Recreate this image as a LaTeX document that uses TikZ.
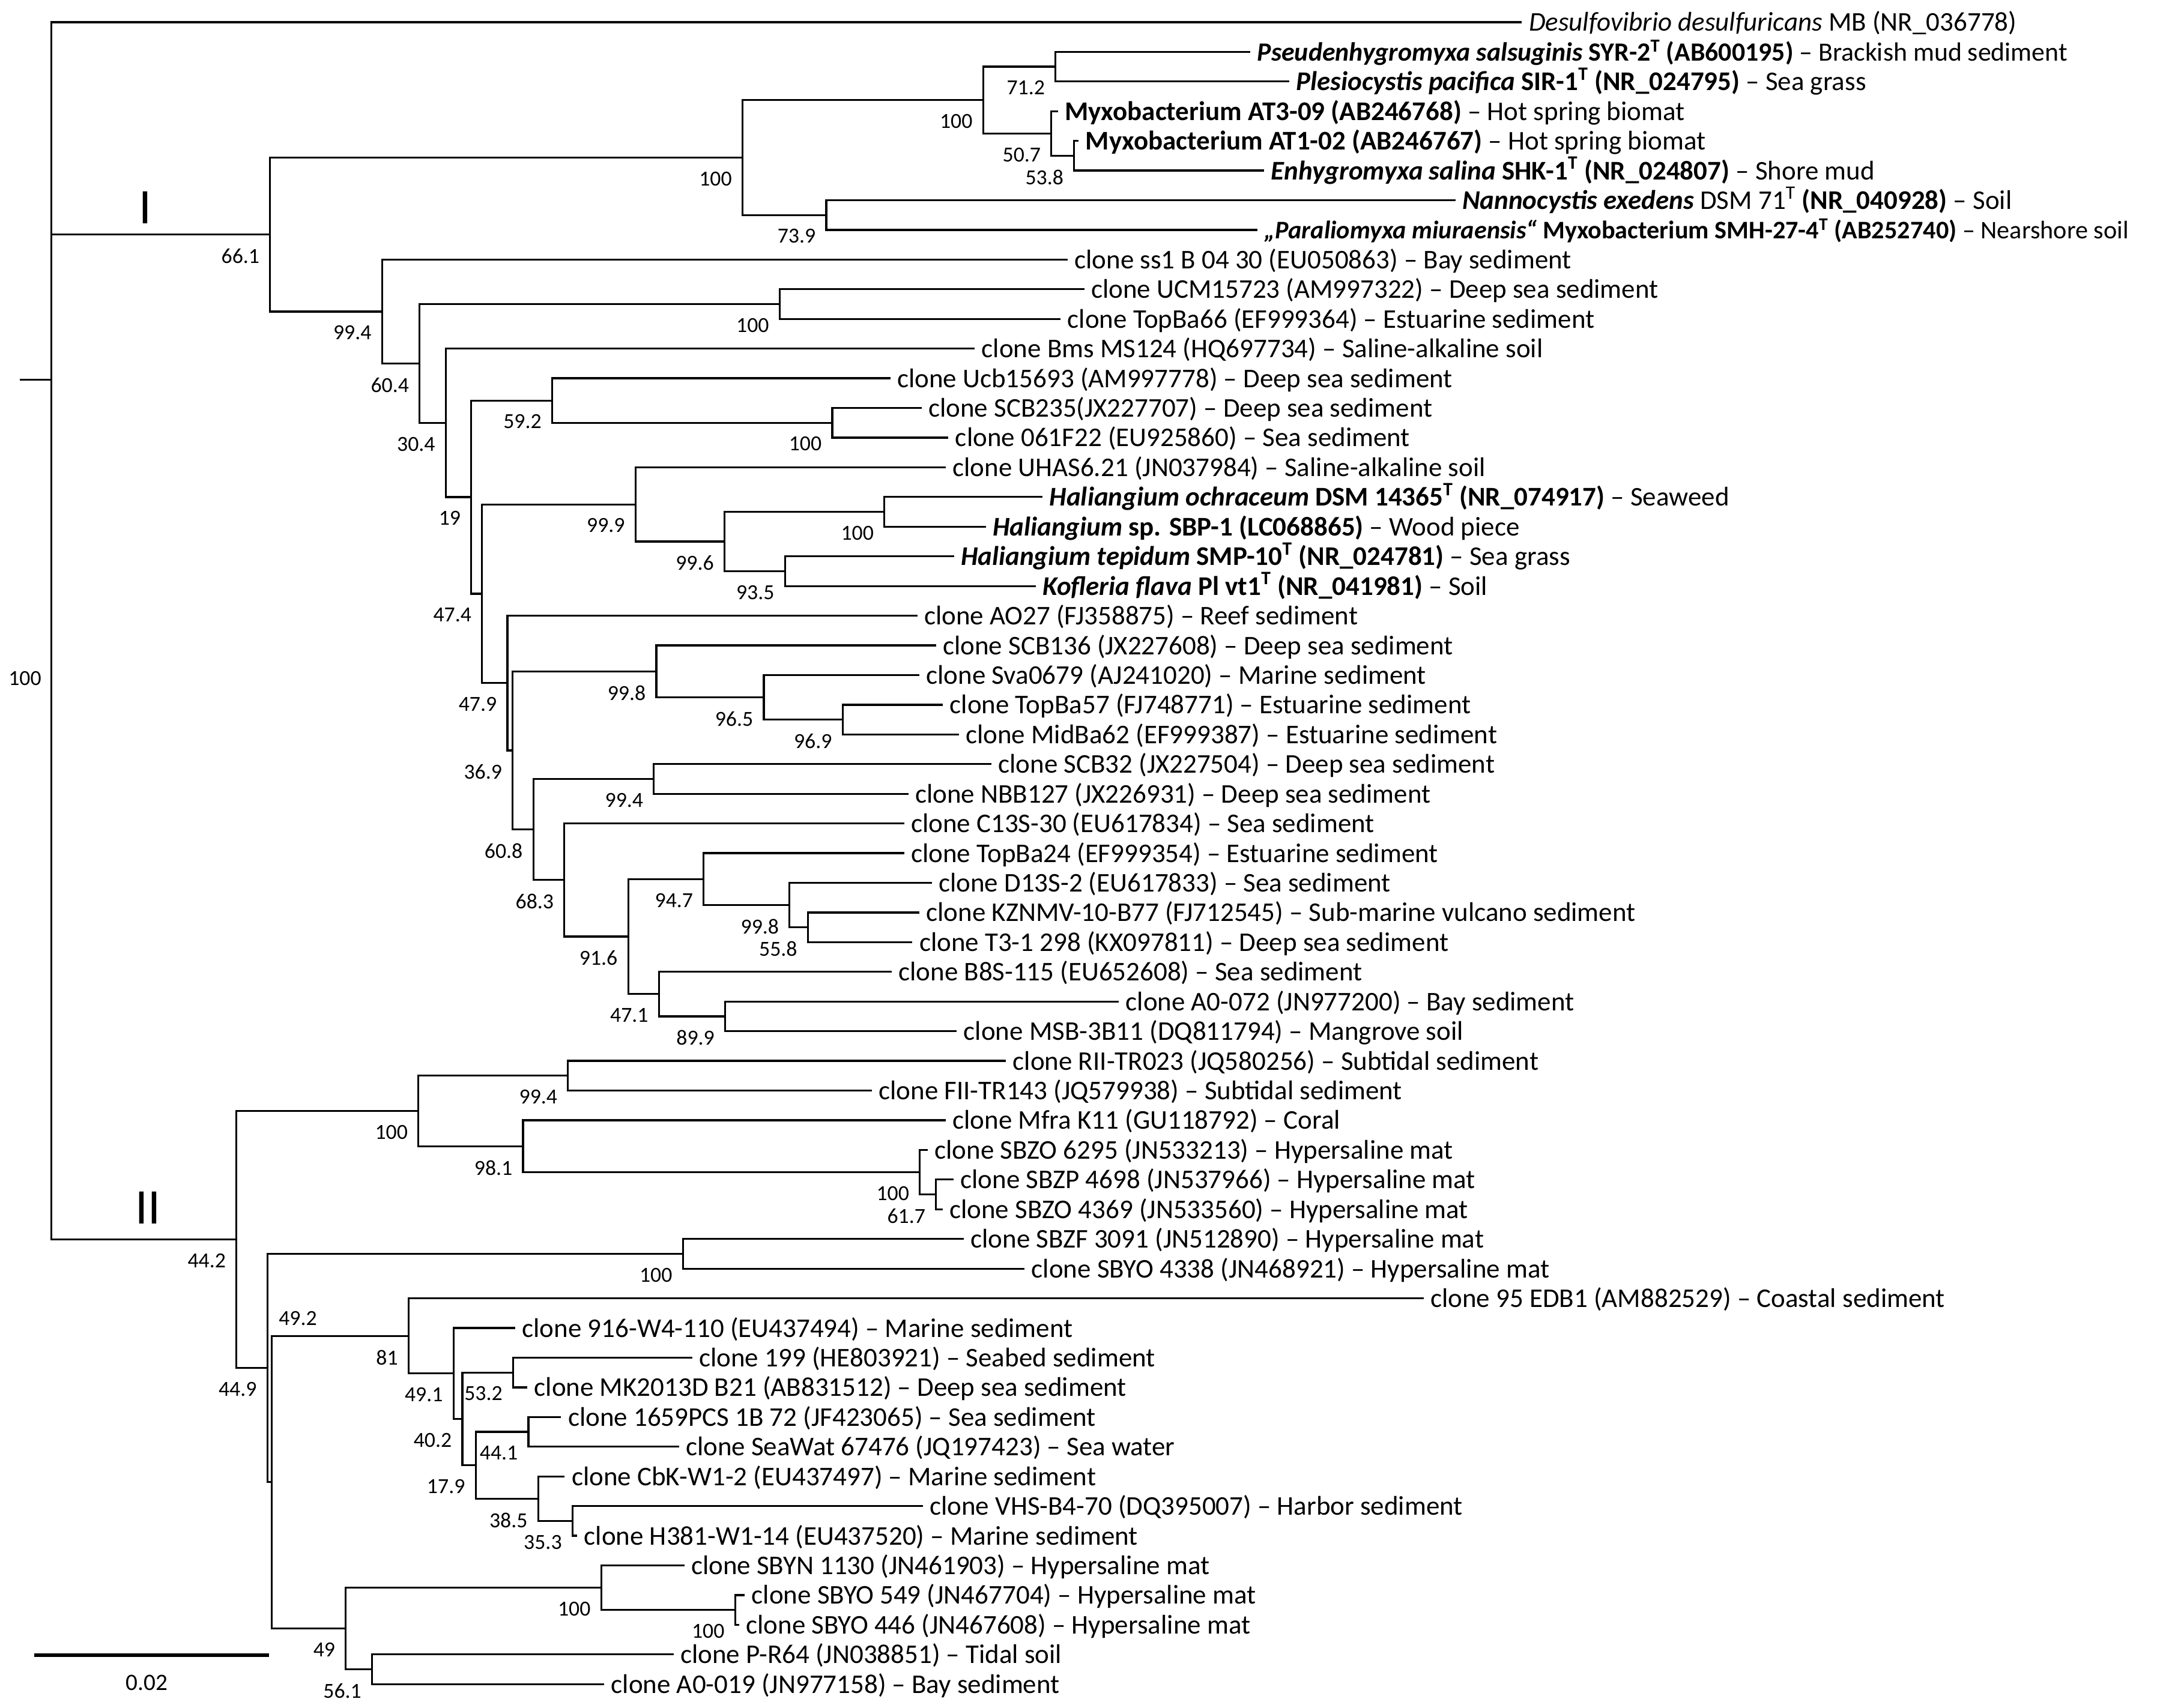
\documentclass[tikz,border=0pt]{standalone}
\usepackage{fontspec}
\setmainfont{Carlito}
\usetikzlibrary{calc}
\newcommand\inode[4]{\path ($(#3)!.5!(#4)$) coordinate (#1m); \coordinate (#1) at (#2,0 |- #1m);}
\newcommand\leafn[4]{\coordinate (#1) at (#2,{16+21.43*#3}); \node[lf] (#1t) at (#1) {#4};}
\newcommand\bsl[2]{\node[bs] (b#1) at ($(#1)+(-7.5,10)$) {#2};}
\newcommand\edg[3]{\draw[br] (#1) |- (#2) (#1) |- (#3);}
\begin{document}
\begin{tikzpicture}[x=1pt,y=-1pt,
  lf/.style={anchor=base west,inner sep=0pt,xshift=5.5pt,yshift=-6.5pt,font=\fontsize{19.5}{22}\selectfont},
  bs/.style={anchor=north east,inner sep=0pt,font=\fontsize{15.5}{18}\selectfont},
  br/.style={line width=1.4pt,line cap=rect},
  cl/.style={inner sep=0pt,font=\fontsize{36}{40}\selectfont}]
\useasboundingbox (0,0) rectangle (1568,1233);
% leaves
\leafn{l0}{1098}{0}{\textit{Desulfovibrio desulfuricans} MB (NR\_036778)}
\leafn{l1}{902}{1}{\fontsize{19}{22}\selectfont\textbf{\textit{Pseudenhygromyxa salsuginis} SYR-2\textsuperscript{T} (AB600195)} – Brackish mud sediment}
\leafn{l2}{930}{2}{\textbf{\textit{Plesiocystis pacifica} SIR-1\textsuperscript{T} (NR\_024795)} – Sea grass}
\leafn{l3}{763}{3}{\textbf{Myxobacterium AT3-09 (AB246768)} – Hot spring biomat}
\leafn{l4}{778}{4}{\textbf{Myxobacterium AT1-02 (AB246767)} – Hot spring biomat}
\leafn{l5}{912}{5}{\textbf{\textit{Enhygromyxa salina} SHK-1\textsuperscript{T} (NR\_024807)} – Shore mud}
\leafn{l6}{1050}{6}{\textbf{\textit{Nannocystis exedens}} DSM 71\textsuperscript{T} \textbf{(NR\_040928)} – Soil}
\leafn{l7}{907}{7}{\fontsize{18.3}{22}\selectfont\textbf{\textit{„Paraliomyxa miuraensis“} Myxobacterium SMH-27-4\textsuperscript{T} (AB252740)} – Nearshore soil}
\leafn{l8}{770}{8}{clone ss1 B 04 30 (EU050863) – Bay sediment}
\leafn{l9}{782}{9}{clone UCM15723 (AM997322) – Deep sea sediment}
\leafn{l10}{765}{10}{clone TopBa66 (EF999364) – Estuarine sediment}
\leafn{l11}{703}{11}{clone Bms MS124 (HQ697734) – Saline-alkaline soil}
\leafn{l12}{642}{12}{clone Ucb15693 (AM997778) – Deep sea sediment}
\leafn{l13}{664.6}{13}{clone SCB235(JX227707) – Deep sea sediment}
\leafn{l14}{684}{14}{clone 061F22 (EU925860) – Sea sediment}
\leafn{l15}{682}{15}{clone UHAS6.21 (JN037984) – Saline-alkaline soil}
\leafn{l16}{752}{16}{\textbf{\textit{Haliangium ochraceum} DSM 14365\textsuperscript{T} (NR\_074917)} – Seaweed}
\leafn{l17}{711}{17}{\textbf{\textit{Haliangium} sp. SBP-1 (LC068865)} – Wood piece}
\leafn{l18}{688}{18}{\textbf{\textit{Haliangium tepidum} SMP-10\textsuperscript{T} (NR\_024781)} – Sea grass}
\leafn{l19}{747}{19}{\textbf{\textit{Kofleria flava} Pl vt1\textsuperscript{T} (NR\_041981)} – Soil}
\leafn{l20}{661.5}{20}{clone AO27 (FJ358875) – Reef sediment}
\leafn{l21}{675}{21}{clone SCB136 (JX227608) – Deep sea sediment}
\leafn{l22}{663}{22}{clone Sva0679 (AJ241020) – Marine sediment}
\leafn{l23}{680}{23}{clone TopBa57 (FJ748771) – Estuarine sediment}
\leafn{l24}{691.5}{24}{clone MidBa62 (EF999387) – Estuarine sediment}
\leafn{l25}{715}{25}{clone SCB32 (JX227504) – Deep sea sediment}
\leafn{l26}{655}{26}{clone NBB127 (JX226931) – Deep sea sediment}
\leafn{l27}{652}{27}{clone C13S-30 (EU617834) – Sea sediment}
\leafn{l28}{652}{28}{clone TopBa24 (EF999354) – Estuarine sediment}
\leafn{l29}{672}{29}{clone D13S-2 (EU617833) – Sea sediment}
\leafn{l30}{663}{30}{clone KZNMV-10-B77 (FJ712545) – Sub-marine vulcano sediment}
\leafn{l31}{658}{31}{clone T3-1 298 (KX097811) – Deep sea sediment}
\leafn{l32}{643}{32}{clone B8S-115 (EU652608) – Sea sediment}
\leafn{l33}{807}{33}{clone A0-072 (JN977200) – Bay sediment}
\leafn{l34}{690}{34}{clone MSB-3B11 (DQ811794) – Mangrove soil}
\leafn{l35}{725.5}{35}{clone RII-TR023 (JQ580256) – Subtidal sediment}
\leafn{l36}{628.7}{36}{clone FII-TR143 (JQ579938) – Subtidal sediment}
\leafn{l37}{682}{37}{clone Mfra K11 (GU118792) – Coral}
\leafn{l38}{669}{38}{clone SBZO 6295 (JN533213) – Hypersaline mat}
\leafn{l39}{687.7}{39}{clone SBZP 4698 (JN537966) – Hypersaline mat}
\leafn{l40}{679.8}{40}{clone SBZO 4369 (JN533560) – Hypersaline mat}
\leafn{l41}{695}{41}{clone SBZF 3091 (JN512890) – Hypersaline mat}
\leafn{l42}{739}{42}{clone SBYO 4338 (JN468921) – Hypersaline mat}
\leafn{l43}{1027}{43}{clone 95 EDB1 (AM882529) – Coastal sediment}
\leafn{l44}{371.3}{44}{clone 916-W4-110 (EU437494) – Marine sediment}
\leafn{l45}{499}{45}{clone 199 (HE803921) – Seabed sediment}
\leafn{l46}{380}{46}{clone MK2013D B21 (AB831512) – Deep sea sediment}
\leafn{l47}{404.4}{47}{clone 1659PCS 1B 72 (JF423065) – Sea sediment}
\leafn{l48}{489.4}{48}{clone SeaWat 67476 (JQ197423) – Sea water}
\leafn{l49}{407}{49}{clone CbK-W1-2 (EU437497) – Marine sediment}
\leafn{l50}{665.5}{50}{clone VHS-B4-70 (DQ395007) – Harbor sediment}
\leafn{l51}{416}{51}{clone H381-W1-14 (EU437520) – Marine sediment}
\leafn{l52}{493.3}{52}{clone SBYN 1130 (JN461903) – Hypersaline mat}
\leafn{l53}{537}{53}{clone SBYO 549 (JN467704) – Hypersaline mat}
\leafn{l54}{533}{54}{clone SBYO 446 (JN467608) – Hypersaline mat}
\leafn{l55}{485.5}{55}{clone P-R64 (JN038851) – Tidal soil}
\leafn{l56}{435.5}{56}{clone A0-019 (JN977158) – Bay sediment}
% clade I internal nodes
\inode{C}{762}{l1}{l2} \inode{E}{775.4}{l4}{l5} \inode{D}{759}{l3}{E}
\inode{B}{709.7}{C}{D} \inode{NN}{596.5}{l6}{l7} \inode{A}{536}{B}{NN}
\inode{UC}{562.8}{l9}{l10} \inode{LS}{600.8}{l13}{l14} \inode{L}{398.6}{l12}{LS}
\inode{O}{638.4}{l16}{l17} \inode{HT}{566.7}{l18}{l19} \inode{N2}{523}{O}{HT} \inode{N}{458.8}{l15}{N2}
\inode{U}{608.3}{l23}{l24} \inode{T}{551.4}{l22}{U} \inode{R}{473.8}{l21}{T}
\inode{V}{472}{l25}{l26} \inode{AB}{583.2}{l30}{l31} \inode{AA}{570}{l29}{AB} \inode{Y}{508}{l28}{AA}
\inode{AC}{523.5}{l33}{l34} \inode{Z}{475.7}{l32}{AC} \inode{X}{453.5}{Y}{Z} \inode{W}{407.4}{l27}{X}
\inode{S}{385}{V}{W} \inode{Q}{370.1}{R}{S} \inode{P}{366.3}{l20}{Q} \inode{M}{348}{N}{P}
\inode{K}{340.2}{L}{M} \inode{J}{321.8}{l11}{K} \inode{H}{302.9}{UC}{J} \inode{G}{275.8}{l8}{H}
\inode{CI}{195}{A}{G}
% clade II internal nodes
\inode{RN}{410}{l35}{l36} \inode{ZP}{675.7}{l39}{l40} \inode{SZ}{664}{l38}{ZP} \inode{MF}{377.6}{l37}{SZ}
\inode{CA}{302}{RN}{MF} \inode{FZ}{493}{l41}{l42}
\inode{NF}{370.4}{l45}{l46} \inode{NG}{381.5}{l47}{l48} \inode{NH}{413.3}{l50}{l51} \inode{NI}{388.5}{l49}{NH}
\inode{NJ}{343.4}{NG}{NI} \inode{NK}{333.8}{NF}{NJ} \inode{NL}{327.4}{l44}{NK} \inode{NM}{295}{l43}{NL}
\inode{SO}{530.7}{l53}{l54} \inode{SN}{434}{l52}{SO} \inode{NP}{268.6}{l55}{l56} \inode{NQ}{249.6}{SN}{NP}
\inode{CC}{196}{NM}{NQ} \inode{CB}{193}{FZ}{CC} \inode{CII}{170.7}{CA}{CB}
\inode{IJ}{37}{CI}{CII} \inode{RT}{37}{l0}{IJ}
\coordinate (stub) at (15,0 |- RT);
% branches
\draw[br] (RT) -- (stub);
\edg{RT}{l0}{IJ} \edg{IJ}{CI}{CII}
\edg{CI}{A}{G} \edg{A}{B}{NN} \edg{B}{C}{D} \edg{C}{l1}{l2} \edg{D}{l3}{E} \edg{E}{l4}{l5} \edg{NN}{l6}{l7}
\edg{G}{l8}{H} \edg{H}{UC}{J} \edg{UC}{l9}{l10} \edg{J}{l11}{K} \edg{K}{L}{M} \edg{L}{l12}{LS} \edg{LS}{l13}{l14}
\edg{M}{N}{P} \edg{N}{l15}{N2} \edg{N2}{O}{HT} \edg{O}{l16}{l17} \edg{HT}{l18}{l19}
\edg{P}{l20}{Q} \edg{Q}{R}{S} \edg{R}{l21}{T} \edg{T}{l22}{U} \edg{U}{l23}{l24}
\edg{S}{V}{W} \edg{V}{l25}{l26} \edg{W}{l27}{X} \edg{X}{Y}{Z} \edg{Y}{l28}{AA} \edg{AA}{l29}{AB} \edg{AB}{l30}{l31}
\edg{Z}{l32}{AC} \edg{AC}{l33}{l34}
\edg{CII}{CA}{CB} \edg{CA}{RN}{MF} \edg{RN}{l35}{l36} \edg{MF}{l37}{SZ} \edg{SZ}{l38}{ZP} \edg{ZP}{l39}{l40}
\edg{CB}{FZ}{CC} \edg{FZ}{l41}{l42} \edg{CC}{NM}{NQ} \edg{NM}{l43}{NL} \edg{NL}{l44}{NK} \edg{NK}{NF}{NJ}
\edg{NF}{l45}{l46} \edg{NJ}{NG}{NI} \edg{NG}{l47}{l48} \edg{NI}{l49}{NH} \edg{NH}{l50}{l51}
\edg{NQ}{SN}{NP} \edg{SN}{l52}{SO} \edg{SO}{l53}{l54} \edg{NP}{l55}{l56}
% bootstrap values
\bsl{CI}{66.1} \bsl{A}{100} \bsl{B}{100} \bsl{C}{71.2} \bsl{D}{50.7} \bsl{E}{53.8} \bsl{NN}{73.9}
\bsl{G}{99.4} \bsl{UC}{100} \bsl{H}{60.4} \bsl{J}{30.4} \bsl{K}{19} \bsl{L}{59.2} \bsl{LS}{100}
\bsl{M}{47.4} \bsl{N}{99.9} \bsl{N2}{99.6} \bsl{O}{100} \bsl{HT}{93.5}
\bsl{P}{47.9} \bsl{Q}{36.9} \bsl{R}{99.8} \bsl{T}{96.5} \bsl{U}{96.9} \bsl{S}{60.8} \bsl{V}{99.4}
\bsl{W}{68.3} \bsl{X}{91.6} \bsl{Y}{94.7} \bsl{AA}{99.8} \bsl{AB}{55.8} \bsl{Z}{47.1} \bsl{AC}{89.9}
\bsl{CII}{44.2} \bsl{CA}{100} \bsl{RN}{99.4} \bsl{MF}{98.1} \bsl{SZ}{100} \bsl{ZP}{61.7}
\bsl{CB}{44.9} \bsl{FZ}{100} \bsl{NM}{81} \bsl{NL}{49.1} \bsl{NK}{40.2} \bsl{NF}{53.2} \bsl{NJ}{17.9}
\bsl{NG}{44.1} \bsl{NI}{38.5} \bsl{NH}{35.3} \bsl{NQ}{49} \bsl{SN}{100} \bsl{SO}{100} \bsl{NP}{56.1}
\node[bs,anchor=center] (bCC) at (215,952) {49.2};
\node[bs,anchor=center] (bIJ) at (18,490) {100};
% clade labels
\node[cl] (cI) at (105,150) {I};
\node[cl] (cII) at (107,872) {II};
% scale bar
\coordinate (sb1) at (24.5,1195); \coordinate (sb2) at (194,1195);
\draw[line width=2.6pt] (sb1) -- (sb2);
\node[font=\fontsize{17}{19}\selectfont,inner sep=0pt] (sbl) at (106,1215) {0.02};
\end{tikzpicture}
\end{document}
